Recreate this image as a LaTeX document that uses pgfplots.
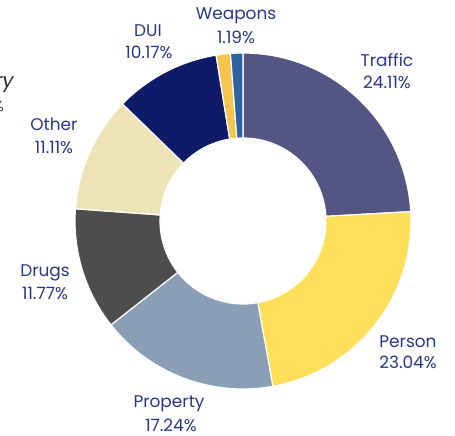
\documentclass[border=0pt]{standalone}
\usepackage{pgfplots}
\pgfplotsset{compat=1.18}
\usepackage{pgfplotstable}
\usetikzlibrary{calc}
\usepackage{fontspec}
\setmainfont{Poppins}
\definecolor{txt}{HTML}{2B3587}
\definecolor{c0}{HTML}{555584}
\definecolor{c1}{HTML}{FFDE59}
\definecolor{c2}{HTML}{8A9FB5}
\definecolor{c3}{HTML}{4D4D4D}
\definecolor{c4}{HTML}{EDE3B6}
\definecolor{c5}{HTML}{0F1A68}
\definecolor{c6}{HTML}{F5C54F}
\definecolor{c7}{HTML}{2F63A0}
\pgfplotstableread{
label value
Traffic 24.11
Person 23.04
Property 17.24
Drugs 11.77
Other 11.11
DUI 10.17
Unlabeled 1.37
Weapons 1.19
}\data
\def\cum{0}
\foreach \i in {0,...,7}{%
  \pgfplotstablegetelem{\i}{value}\of\data
  \pgfmathsetmacro\aa{90-3.6*\cum}%
  \pgfmathsetmacro\cumnew{\cum+\pgfplotsretval}%
  \pgfmathsetmacro\bb{90-3.6*\cumnew}%
  \expandafter\xdef\csname sa\i\endcsname{\aa}%
  \expandafter\xdef\csname sb\i\endcsname{\bb}%
  \xdef\cum{\cumnew}%
}
\begin{document}
\begin{tikzpicture}
\useasboundingbox (0,0) rectangle (341.25pt,327pt);
\begin{axis}[at={(0,0)},anchor=south west,scale only axis,
  width=341.25pt,height=327pt,xmin=0,xmax=455,ymin=0,ymax=436,
  hide axis,clip=false]
\coordinate (C) at (axis cs:243,215);
\pgfplotsinvokeforeach{0,...,7}{%
  \fill[c#1,draw=white,line width=0.9pt]
    ($(C)+(\csname sa#1\endcsname:126pt)$)
    arc[start angle=\csname sa#1\endcsname,end angle=\csname sb#1\endcsname,radius=126pt]
    -- ($(C)+(\csname sb#1\endcsname:62.25pt)$)
    arc[start angle=\csname sb#1\endcsname,end angle=\csname sa#1\endcsname,radius=62.25pt]
    -- cycle;
}
\tikzset{lab/.style={anchor=base,text=txt,font=\fontsize{12.7}{14}\selectfont,inner sep=0pt}}
\node[lab] at (axis cs:387,369.3) {Traffic};
\node[lab] at (axis cs:387,347.7) {24.11\%};
\node[lab] at (axis cs:408,88) {Person};
\node[lab] at (axis cs:408,67.7) {23.04\%};
\node[lab] at (axis cs:169,28) {Property};
\node[lab] at (axis cs:171,4.3) {17.24\%};
\node[lab] at (axis cs:45,159.3) {Drugs};
\node[lab] at (axis cs:45,136) {11.77\%};
\node[lab] at (axis cs:54,305.3) {Other};
\node[lab] at (axis cs:54,282.7) {11.11\%};
\node[lab] at (axis cs:148,399.3) {DUI};
\node[lab] at (axis cs:149,377.7) {10.17\%};
\node[lab] at (axis cs:236,416.7) {Weapons};
\node[lab] at (axis cs:236,392.7) {1.19\%};
\node[anchor=base east,inner sep=0pt,text=black!80,font=\fontsize{15}{17}\selectfont\itshape] at (axis cs:14,348) {ry};
\node[anchor=base east,inner sep=0pt,text=black!80,font=\fontsize{11}{13}\selectfont] at (axis cs:4,324) {\%};
\end{axis}
\end{tikzpicture}
\end{document}
